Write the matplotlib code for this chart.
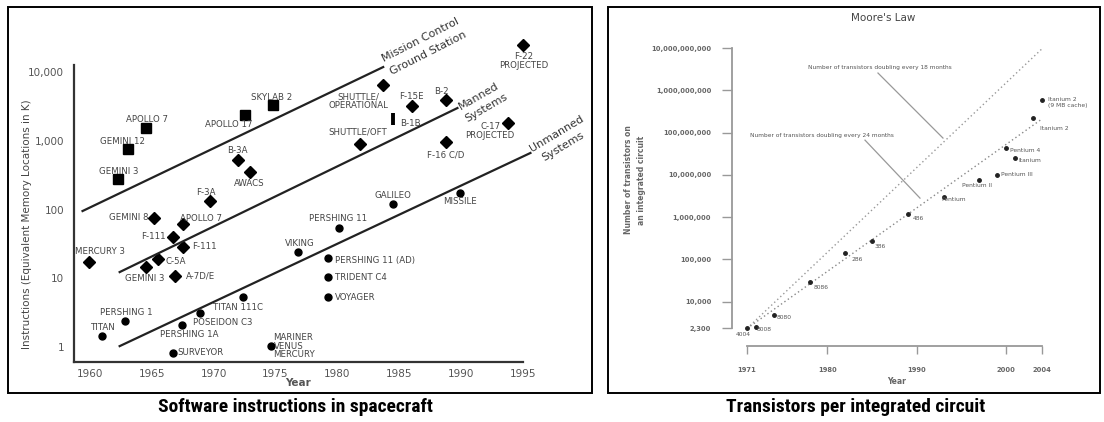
"""Two historical log-scale charts: spacecraft software size and Moore's law."""

import matplotlib
matplotlib.use("Agg")
import matplotlib.pyplot as plt
from matplotlib import font_manager
from matplotlib.patches import Rectangle
from matplotlib.ticker import NullLocator

W, H = 1104, 422

# ---- left chart: software instructions in spacecraft ----
square_names = ["APOLLO 7", "GEMINI 12", "GEMINI 3", "APOLLO 17", "SKYLAB 2"]
square_years = [1964.5, 1963.1, 1962.3, 1972.5, 1974.8]
square_values = [1530, 760, 280, 2370, 3300]

diamond_names = [
    "SHUTTLE/\nOPERATIONAL", "F-15E", "B-2", "SHUTTLE/OFT", "F-16 C/D",
    "C-17\nPROJECTED", "F-22\nPROJECTED", "B-3A", "AWACS", "F-3A",
    "GEMINI 8", "APOLLO 7", "F-111", "F-111", "MERCURY 3", "C-5A",
    "GEMINI 3", "A-7D/E",
]
diamond_years = [1983.7, 1986.0, 1988.8, 1981.8, 1988.8, 1993.8, 1995.0,
                 1972.0, 1972.9, 1969.7, 1965.2, 1967.5, 1966.7, 1967.5,
                 1959.9, 1965.5, 1964.5, 1966.9]
diamond_values = [6500, 3200, 3900, 900, 950, 1800, 24700, 525, 350, 133,
                  75, 61, 40, 28.5, 17, 19, 14.6, 10.8]

bar_names = ["B-1B"]
bar_years = [1984.5]
bar_values = [2070]

circle_names = [
    "TITAN 111C", "POSEIDON C3", "PERSHING 1", "PERSHING 1A", "TITAN",
    "SURVEYOR", "MARINER\nVENUS\nMERCURY", "VIKING", "PERSHING 11",
    "PERSHING 11 (AD)", "TRIDENT C4", "VOYAGER", "GALILEO", "MISSILE",
]
circle_years = [1972.4, 1968.9, 1962.8, 1967.4, 1961.0, 1966.7, 1974.6,
                1976.8, 1980.1, 1979.2, 1979.2, 1979.2, 1984.5, 1989.9]
circle_values = [5.3, 3.1, 2.4, 2.1, 1.45, 0.82, 1.03, 24, 54, 19.7, 10.4,
                 5.3, 120, 174]

trend_names = [["Mission Control", "Ground Station"],
               ["Manned", "Systems"],
               ["Unmanned", "Systems"]]
trend_years = [[1959.4, 1983.7], [1962.4, 1989.7], [1962.4, 1995.6]]
trend_values = [[95, 11800], [12.3, 2990], [1.03, 664]]

left_yticks = [1, 10, 100, 1000, 10000]
left_yticklabels = ["1", "10", "100", "1,000", "10,000"]
left_xticks = [1960, 1965, 1970, 1975, 1980, 1985, 1990, 1995]

# ---- right chart: Moore's law ----
chip_names = ["4004", "8008", "8080", "8086", "286", "386", "486", "Pentium",
              "Pentium II", "Pentium III", "Pentium 4", "Itanium", "Itanium 2",
              "Itanium 2\n(9 MB cache)"]
chip_years = [1971, 1972, 1974, 1978, 1982, 1985, 1989, 1993, 1997, 1999,
              2000, 2001, 2003, 2004]
chip_transistors = [2300, 2500, 4800, 29000, 140000, 270000, 1200000,
                    3000000, 7500000, 10000000, 42000000, 25000000,
                    220000000, 600000000]

doubling_years = [1971, 2004]
doubling_18 = [2300, 9.6e9]
doubling_24 = [2300, 2.1e8]

right_yticks = [2300, 1e4, 1e5, 1e6, 1e7, 1e8, 1e9, 1e10]
right_xticks = [1971, 1980, 1990, 2000, 2004]

# label placement (pixel offsets from the marker, alignment)
square_offsets = [(1, 9, "center"), (-6, 7, "center"), (0, 7, "center"),
                  (-16, -10, "center"), (-1, 8, "center")]
diamond_offsets = [(-25, -16, "center"), (0, 10, "center"), (-5, 9, "center"),
                   (-2, 12, "center"), (-1, -13, "center"), (-18, -8, "center"),
                   (1, -16, "center"), (-1, 9, "center"), (0, -11, "center"),
                   (-4, 8, "center"), (-6, 1, "right"), (18, 6, "center"),
                   (-7, 0, "right"), (9, 0, "left"), (11, 11, "center"),
                   (7, -2, "left"), (-1, -12, "center"), (11, 0, "left")]
bar_offsets = [(7, -4, "left")]
circle_offsets = [(-5, -10, "center"), (-7, -9, "left"), (2, 8, "center"),
                  (8, -10, "center"), (1, 8, "center"), (5, 0, "left"),
                  (3, 0, "left"), (2, 9, "center"), (-1, 9, "center"),
                  (7, -2, "left"), (7, 0, "left"), (7, 0, "left"),
                  (0, 9, "center"), (0, -9, "center")]
chip_offsets = [(-4, -6, "center"), (8, -3, "center"), (10, -3, "center"),
                (12, -6, "center"), (12, -6, "center"), (8, -5, "center"),
                (10, -5, "center"), (10, -3, "center"), (-2, -5, "center"),
                (4, 0, "left"), (4, -2, "left"), (3, -3, "left"),
                (7, -10, "left"), (6, -3, "left")]


def fx(px):
    return px / W


def fy(py):
    return 1 - py / H


# condensed bold captions: take the narrowest family that is installed
installed = {f.name for f in font_manager.fontManager.ttflist}
caption_font, caption_size = "DejaVu Sans", 10.3
for name, size in [("Liberation Sans Narrow", 14.5), ("Roboto Condensed", 14),
                   ("Roboto", 12.5)]:
    if name in installed:
        caption_font, caption_size = name, size
        break

fig = plt.figure(figsize=(W / 100, H / 100), dpi=100)
fig.patch.set_facecolor("white")

for x0, x1 in [(8, 592), (608, 1100)]:
    fig.add_artist(Rectangle((fx(x0), fy(393)), (x1 - x0) / W, (393 - 7) / H,
                             transform=fig.transFigure, fill=False,
                             lw=1.4, ec="black"))

fig.text(fx(295), fy(407), "Software instructions in spacecraft",
         family=caption_font, fontsize=caption_size, fontweight="bold",
         ha="center", va="center")
fig.text(fx(856), fy(407), "Transistors per integrated circuit",
         family=caption_font, fontsize=caption_size, fontweight="bold",
         ha="center", va="center")

# ---------------- left chart ----------------
ax1 = fig.add_axes([fx(74), fy(362), (560 - 74) / W, (362 - 15) / H])
ax1.set_yscale("log")
ax1.set_xlim(1958.71, 1997.99)
ax1.set_ylim(10 ** -0.218, 10 ** 4.829)
ax1.patch.set_alpha(0)
for side in ["top", "right"]:
    ax1.spines[side].set_visible(False)
for side in ["left", "bottom"]:
    ax1.spines[side].set_linewidth(1.6)
    ax1.spines[side].set_color("#333333")
ax1.spines["left"].set_bounds(10 ** -0.218, 10 ** 4.1)
ax1.spines["bottom"].set_bounds(1958.71, 1995)
ax1.set_yticks(left_yticks)
ax1.set_yticklabels(left_yticklabels)
ax1.yaxis.set_minor_locator(NullLocator())
ax1.set_xticks(left_xticks)
ax1.tick_params(length=0, labelsize=7.5, labelcolor="#555555")
ax1.tick_params(axis="y", pad=7)
ax1.tick_params(axis="x", pad=5)

ax1.plot(square_years, square_values, "s", ms=7.5, color="black", clip_on=False)
ax1.plot(diamond_years, diamond_values, "D", ms=6, color="black", clip_on=False)
ax1.plot(bar_years, bar_values, "|", ms=9, mew=2.8, color="black", clip_on=False)
ax1.plot(circle_years, circle_values, "o", ms=5, color="black", clip_on=False)

groups = [
    (square_names, square_years, square_values, square_offsets),
    (diamond_names, diamond_years, diamond_values, diamond_offsets),
    (bar_names, bar_years, bar_values, bar_offsets),
    (circle_names, circle_years, circle_values, circle_offsets),
]
for names, xs, ys, offsets in groups:
    for name, x, y, (dx, dy, ha) in zip(names, xs, ys, offsets):
        ax1.annotate(name, (x, y), xytext=(dx, dy), textcoords="offset pixels",
                     ha=ha, va="center", fontsize=6.2, color="#444444",
                     linespacing=0.95)

for xs, ys in zip(trend_years, trend_values):
    ax1.plot(xs, ys, color="#222222", lw=1.6, clip_on=False)

# trend labels along the lines
trend_label_pos = [[(1986.7, 29200, 27), (1987.3, 18900, 27)],
                   [(1991.4, 4480, 30), (1992.0, 2990, 30)],
                   [(1997.75, 1250, 31), (1998.2, 811, 31)]]
for labels, spots in zip(trend_names, trend_label_pos):
    for text, (x, y, rot) in zip(labels, spots):
        ax1.text(x, y, text, rotation=rot, rotation_mode="anchor",
                 ha="center", va="center", fontsize=8, color="#333333")

fig.text(fx(27), fy(224), "Instructions (Equivalent Memory Locations in K)",
         rotation=90, ha="center", va="center", fontsize=7.5, color="#444444")
fig.text(fx(298), fy(383), "Year", ha="center", va="center", fontsize=7.5,
         fontweight="bold", color="#555555")

# ---------------- right chart ----------------
ax2 = fig.add_axes([fx(732), fy(346), (1080 - 732) / W, (346 - 10) / H])
ax2.set_yscale("log")
ax2.set_xlim(1969.32, 2008.25)
ax2.set_ylim(10 ** 2.947, 10 ** 10.9)
ax2.patch.set_alpha(0)
for side in ["top", "right"]:
    ax2.spines[side].set_visible(False)
for side in ["left", "bottom"]:
    ax2.spines[side].set_linewidth(1.3)
    ax2.spines[side].set_color("#999999")
ax2.spines["left"].set_bounds(2300, 1e10)
ax2.spines["bottom"].set_bounds(1971, 2004)
ax2.set_yticks(right_yticks)
ax2.set_yticklabels([f"{int(v):,}" for v in right_yticks])
ax2.yaxis.set_minor_locator(NullLocator())
ax2.set_xticks(right_xticks)
ax2.tick_params(direction="out", width=1, color="#999999", labelcolor="#666666",
                labelsize=4.9)
ax2.tick_params(axis="y", length=7, pad=8)
ax2.tick_params(axis="x", length=6, pad=9)
for lab in ax2.get_xticklabels() + ax2.get_yticklabels():
    lab.set_fontweight("bold")

ax2.plot(doubling_years, doubling_18, ls=(0, (1, 2)), color="#999999", lw=1)
ax2.plot(doubling_years, doubling_24, ls=(0, (1, 2)), color="#888888", lw=1)
ax2.plot(chip_years, chip_transistors, "o", ms=2.5, color="#222222")
for name, x, y, (dx, dy, ha) in zip(chip_names, chip_years, chip_transistors,
                                     chip_offsets):
    ax2.annotate(name, (x, y), xytext=(dx, dy), textcoords="offset pixels",
                 ha=ha, va="center", fontsize=4.3, color="#555555",
                 linespacing=1.1, annotation_clip=False)

ax2.text(1977.82, 3.55e9, "Number of transistors doubling every 18 months",
         ha="left", va="center", fontsize=4.2, color="#555555")
ax2.plot([1985.65, 1992.92], [2.56e9, 7.4e7], color="#999999", lw=0.9)
ax2.text(1971.34, 8.7e7, "Number of transistors doubling every 24 months",
         ha="left", va="center", fontsize=4.2, color="#555555")
ax2.plot([1984.2, 1990.35], [6.6e7, 2.8e6], color="#999999", lw=0.9)

fig.text(fx(883), fy(18), "Moore's Law", ha="center", va="center",
         fontsize=7.5, color="#444444")
fig.text(fx(635), fy(180), "Number of transistors on\nan integrated circuit",
         rotation=90, ha="center", va="center", fontsize=5.5, color="#666666",
         fontweight="bold", linespacing=1.7)
fig.text(fx(897), fy(382), "Year", ha="center", va="center", fontsize=5.5,
         color="#666666", fontweight="bold")

fig.savefig("out.png", dpi=100)
plt.close(fig)
